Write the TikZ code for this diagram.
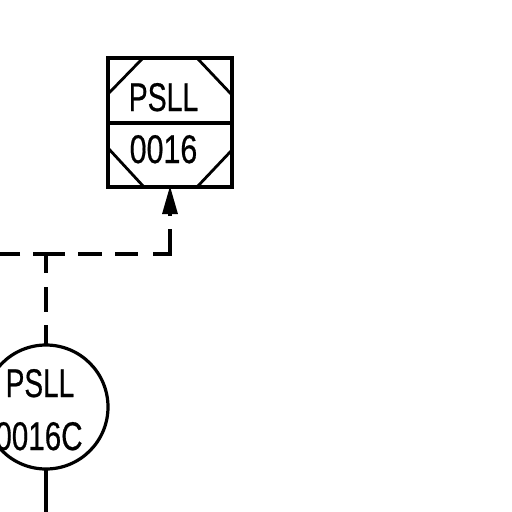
\documentclass[tikz,border=0pt]{standalone}
\usepackage{fontspec}
\setmainfont{Liberation Sans}
\usetikzlibrary{arrows.meta}
\tikzset{
  x=1pt,y=-1pt,
  ln/.style={line width=3.2pt,black},
  thinln/.style={line width=2.8pt,black},
  boxshape/.style={draw,ln,rectangle,minimum width=124pt,minimum height=129pt,inner sep=0pt,outer sep=0pt},
  ringshape/.style={draw,ln,circle,minimum size=124pt,inner sep=0pt,outer sep=0pt},
  lab/.style={inner sep=0pt,outer sep=0pt,anchor=base},
  tiparrow/.style={ln,-{Triangle[length=28pt,width=15pt]},shorten >=-1pt},
}
\newcommand{\labA}[2][0.70]{\scalebox{#1}[1]{\fontsize{40pt}{40pt}\selectfont\addfontfeature{FakeBold=0.6}#2}}
\begin{document}
\begin{tikzpicture}
\useasboundingbox (0,0) rectangle (512,512);
\node[boxshape] (box) at (170,122.5) {};
\node[ringshape] (ring) at (46,407) {};
\coordinate (ml) at (108,123);
\coordinate (mr) at (232,123);
\draw[ln] (ml) -- (mr);
% corner chamfers
\coordinate (a1) at (108,94); \coordinate (a2) at (143,58);
\coordinate (b1) at (197,58); \coordinate (b2) at (232,95);
\coordinate (c1) at (108,148); \coordinate (c2) at (144,187);
\coordinate (d1) at (197,187); \coordinate (d2) at (232,150);
\draw[thinln] (a1) -- (a2);
\draw[thinln] (b1) -- (b2);
\draw[thinln] (c1) -- (c2);
\draw[thinln] (d1) -- (d2);
% labels
\node[lab] (t1) at (163.5,111) {\labA[0.71]{PSLL}};
\node[lab] (t2) at (163.5,163) {\labA[0.76]{0016}};
\node[lab] (t3) at (40,397) {\labA[0.70]{PSLL}};
\node[lab] (t4) at (39,450) {\labA[0.74]{0016C}};
% connectors
\coordinate (jn) at (46,254);
\coordinate (west) at (0,254);
\coordinate (up) at (170,229);
\coordinate (tipstart) at (170,216);
\coordinate (down) at (46,512);
\draw[ln,dash pattern=on 13pt off 13pt on 21pt] (jn) -- (west);
\draw[ln,dash pattern=on 19pt off 13pt on 24pt off 13pt on 23pt off 15pt on 43pt off 100pt,line join=miter] (jn) -| (up);
\draw[ln,dash pattern=on 19pt off 14pt on 25pt off 13pt on 20pt] (jn) -- (ring.north);
\draw[tiparrow] (tipstart) -- (box.south);
\draw[ln] (ring.south) -- (down);
\end{tikzpicture}
\end{document}
